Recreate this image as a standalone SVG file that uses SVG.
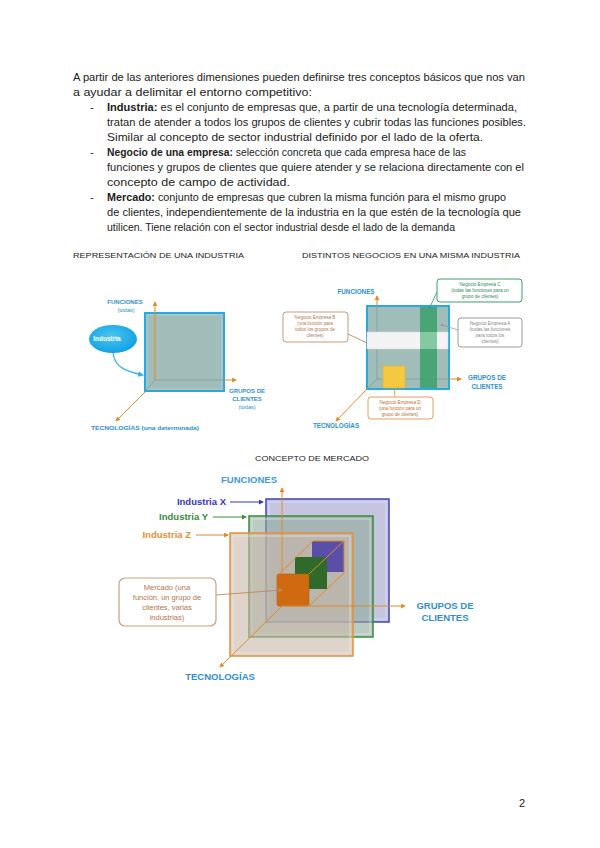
<svg xmlns="http://www.w3.org/2000/svg" width="600" height="848" viewBox="0 0 600 848">
<defs>
<marker id="ao" viewBox="0 0 6 6" refX="5" refY="3" markerWidth="5" markerHeight="5" orient="auto"><path d="M0,0 L6,3 L0,6 z" fill="#e08a2a"/></marker>
<marker id="ab" viewBox="0 0 6 6" refX="5" refY="3" markerWidth="5" markerHeight="5" orient="auto"><path d="M0,0 L6,3 L0,6 z" fill="#3535c0"/></marker>
<marker id="ag" viewBox="0 0 6 6" refX="5" refY="3" markerWidth="5" markerHeight="5" orient="auto"><path d="M0,0 L6,3 L0,6 z" fill="#3a8a3a"/></marker>
<marker id="al" viewBox="0 0 6 6" refX="5" refY="3" markerWidth="5" markerHeight="5" orient="auto"><path d="M0,0 L6,3 L0,6 z" fill="#35b5ea"/></marker>
<marker id="am" viewBox="0 0 6 6" refX="5" refY="3" markerWidth="5" markerHeight="5" orient="auto"><path d="M0,0 L6,3 L0,6 z" fill="#c08860"/></marker>
<radialGradient id="gInd" cx="0.45" cy="0.4" r="0.6"><stop offset="0" stop-color="#4cc4f2"/><stop offset="1" stop-color="#11a2e4"/></radialGradient>
</defs>
<style>
.body{font-family:"Liberation Sans",Arial,sans-serif;font-size:11px;fill:#222}
.b{font-weight:bold}
.h{font-family:"Liberation Sans",Arial,sans-serif;font-size:7.5px;fill:#222}
.lbl{font-family:"Liberation Sans",Arial,sans-serif;font-weight:bold;fill:#2e8fd0}
.ax{stroke:#e08a2a;stroke-width:1;fill:none}
.sm{font-family:"Liberation Sans",Arial,sans-serif;font-size:4.6px;text-anchor:middle}
.cb{fill:#fff;stroke-width:1}
</style>
<rect width="600" height="848" fill="#fff"/>

<g id="text">
<text class="body" x="73" y="81" textLength="452" lengthAdjust="spacingAndGlyphs">A partir de las anteriores dimensiones pueden definirse tres conceptos básicos que nos van</text>
<text class="body" x="73" y="96" textLength="239" lengthAdjust="spacingAndGlyphs">a ayudar a delimitar el entorno competitivo:</text>
<text class="body" x="90" y="111">-</text>
<text class="body" x="107" y="111" textLength="410" lengthAdjust="spacingAndGlyphs"><tspan class="b">Industria:</tspan> es el conjunto de empresas que, a partir de una tecnología determinada,</text>
<text class="body" x="107" y="126" textLength="419" lengthAdjust="spacingAndGlyphs">tratan de atender a todos los grupos de clientes y cubrir todas las funciones posibles.</text>
<text class="body" x="107" y="141" textLength="376" lengthAdjust="spacingAndGlyphs">Similar al concepto de sector industrial definido por el lado de la oferta.</text>
<text class="body" x="90" y="156">-</text>
<text class="body" x="107" y="156" textLength="359" lengthAdjust="spacingAndGlyphs"><tspan class="b">Negocio de una empresa:</tspan> selección concreta que cada empresa hace de las</text>
<text class="body" x="107" y="171" textLength="417" lengthAdjust="spacingAndGlyphs">funciones y grupos de clientes que quiere atender y se relaciona directamente con el</text>
<text class="body" x="107" y="186" textLength="183" lengthAdjust="spacingAndGlyphs">concepto de campo de actividad.</text>
<text class="body" x="90" y="201">-</text>
<text class="body" x="107" y="201" textLength="399" lengthAdjust="spacingAndGlyphs"><tspan class="b">Mercado:</tspan> conjunto de empresas que cubren la misma función para el mismo grupo</text>
<text class="body" x="107" y="216" textLength="414" lengthAdjust="spacingAndGlyphs">de clientes, independientemente de la industria en la que estén de la tecnología que</text>
<text class="body" x="107" y="231" textLength="348" lengthAdjust="spacingAndGlyphs">utilicen. Tiene relación con el sector industrial desde el lado de la demanda</text>
<text class="h" x="73" y="258" textLength="171" lengthAdjust="spacingAndGlyphs">REPRESENTACIÓN DE UNA INDUSTRIA</text>
<text class="h" x="302" y="258" textLength="218" lengthAdjust="spacingAndGlyphs">DISTINTOS NEGOCIOS EN UNA MISMA INDUSTRIA</text>
<text class="h" x="255" y="461" textLength="114" lengthAdjust="spacingAndGlyphs">CONCEPTO DE MERCADO</text>
<text class="body" x="519" y="807" font-size="11">2</text>
</g>

<!-- Left diagram -->
<g id="ind-cube">
<rect x="145" y="313" width="79" height="78" fill="#a0bdb9" stroke="#2aa8e0" stroke-width="2"/>
<rect x="147" y="315" width="75" height="74" fill="none" stroke="#c8e6f0" stroke-width="0.6" opacity="0.7"/>
<path d="M155,380 L224,380 M155,380 L146,390" stroke="#7e9a96" stroke-width="0.7" fill="none"/>
</g>
<g id="ind-connectors">
<line class="ax" x1="155" y1="380" x2="155" y2="302" marker-end="url(#ao)"/>
<line class="ax" x1="224" y1="380" x2="236" y2="380" marker-end="url(#ao)"/>
<line class="ax" x1="146" y1="391" x2="116" y2="421" marker-end="url(#ao)"/>
<path d="M113,352 C114,368 128,372 143,375" stroke="#35b5ea" stroke-width="1.2" fill="none" marker-end="url(#al)"/>
</g>
<g id="ind-ellipse">
<ellipse cx="113" cy="339" rx="24" ry="14" fill="url(#gInd)"/>
<text x="107" y="341" font-family="Liberation Sans, Arial, sans-serif" font-size="6.5" font-weight="bold" fill="#fff" text-anchor="middle">Industria</text>
</g>
<g id="ind-labels" class="lbl" font-size="6">
<text x="125" y="304" text-anchor="middle">FUNCIONES</text>
<text x="126" y="312" text-anchor="middle" font-weight="normal" font-size="5.5">(todas)</text>
<text x="247" y="393" text-anchor="middle">GRUPOS DE</text>
<text x="247" y="401" text-anchor="middle">CLIENTES</text>
<text x="247" y="409" text-anchor="middle" font-weight="normal" font-size="5.5">(todas)</text>
<text x="91" y="430" textLength="108" lengthAdjust="spacingAndGlyphs">TECNOLOGÍAS (una determinada)</text>
</g>

<!-- Right diagram -->
<g id="neg-cube">
<rect x="367" y="306" width="82" height="83" fill="#a0bdb9" stroke="#2aa8e0" stroke-width="2"/>
<path d="M377,306 L377,379 L449,379 M377,379 L367,389" stroke="#7e9a96" stroke-width="0.7" fill="none"/>
<rect x="367" y="332" width="81" height="17" fill="#f3f3f3" stroke="#dcdcdc" stroke-width="0.5"/>
<rect x="420" y="307" width="17" height="81" fill="#3aa06a" opacity="0.85"/>
<rect x="420" y="332" width="17" height="17" fill="#8fd0aa" opacity="0.8"/>
<rect x="383" y="366" width="22" height="22" fill="#f5c842" stroke="#e5b020" stroke-width="0.6"/>
</g>
<g id="neg-connectors">
<line class="ax" x1="377" y1="306" x2="377" y2="296" marker-end="url(#ao)"/>
<line class="ax" x1="449" y1="379" x2="461" y2="379" marker-end="url(#ao)"/>
<line class="ax" x1="367" y1="389" x2="336" y2="421" marker-end="url(#ao)"/>
<line x1="437" y1="292" x2="429" y2="309" stroke="#2e9a66" stroke-width="0.8"/>
<line x1="458" y1="330" x2="442" y2="325" stroke="#999" stroke-width="0.8"/>
<circle cx="442" cy="325" r="0.9" fill="#888"/>
<line x1="348" y1="334" x2="367" y2="343" stroke="#b07850" stroke-width="0.8"/>
<line x1="395" y1="397" x2="394" y2="388" stroke="#e08a2a" stroke-width="0.8"/>
</g>
<g id="neg-labels" class="lbl" font-size="6.3">
<text x="356" y="294" text-anchor="middle">FUNCIONES</text>
<text x="487" y="380" text-anchor="middle">GRUPOS DE</text>
<text x="487" y="389" text-anchor="middle">CLIENTES</text>
<text x="336" y="428" text-anchor="middle">TECNOLOGÍAS</text>
</g>
<g id="box-c">
<rect class="cb" x="437" y="279" width="85" height="23" rx="3" stroke="#3aa06a"/>
<text class="sm" fill="#2e8a5a"><tspan x="480" y="286">Negocio Empresa C</tspan><tspan x="480" y="292">(todas las funciones para un</tspan><tspan x="480" y="298">grupo de clientes)</tspan></text>
</g>
<g id="box-a">
<rect class="cb" x="458" y="318" width="64" height="29" rx="3" stroke="#9a9a9a"/>
<text class="sm" fill="#888"><tspan x="490" y="325">Negocio Empresa A</tspan><tspan x="490" y="331">(todas las funciones</tspan><tspan x="490" y="337">para todos los</tspan><tspan x="490" y="343">clientes)</tspan></text>
</g>
<g id="box-b">
<rect class="cb" x="283" y="312" width="65" height="30" rx="3" stroke="#c89a78"/>
<text class="sm" fill="#b07850"><tspan x="315" y="319">Negocio Empresa B</tspan><tspan x="315" y="325">(una función para</tspan><tspan x="315" y="331">todos los grupos de</tspan><tspan x="315" y="337">clientes)</tspan></text>
</g>
<g id="box-d">
<rect class="cb" x="368" y="397" width="65" height="22" rx="3" stroke="#e0a060"/>
<text class="sm" fill="#c07030"><tspan x="400" y="404">Negocio Empresa D</tspan><tspan x="400" y="410">(una función para un</tspan><tspan x="400" y="416">grupo de clientes)</tspan></text>
</g>

<!-- Bottom diagram -->
<g id="ind-x">
<rect x="266" y="499" width="123" height="123" fill="#c5c5e0" stroke="#4040c0" stroke-width="1.5"/>
<rect x="269" y="502" width="117" height="117" fill="none" stroke="#e8e8f4" stroke-width="0.8" opacity="0.8"/>
</g>
<g id="ind-y">
<rect x="249" y="516" width="124" height="121" fill="#90a898" fill-opacity="0.6" stroke="#3a8a3a" stroke-width="1.5"/>
<rect x="252" y="519" width="118" height="115" fill="none" stroke="#e6eee6" stroke-width="0.8" opacity="0.8"/>
</g>
<g id="ind-z">
<rect x="230" y="533" width="123" height="123" fill="#c8b8a8" fill-opacity="0.6" stroke="#e0913a" stroke-width="1.5"/>
<rect x="233" y="536" width="117" height="117" fill="none" stroke="#f2ece6" stroke-width="0.8" opacity="0.8"/>
</g>
<g id="mkt-cubes">
<rect x="312" y="541" width="32" height="31" fill="#5a4fa8"/>
<rect x="295" y="557" width="32" height="32" fill="#2f6a2a"/>
<rect x="277" y="574" width="32" height="32" rx="2" fill="#d06a10" stroke="#b85a08" stroke-width="0.6"/>
<path d="M279,574 L313,541 L344,541 L344,573 L309,606 M309,574 L344,541" stroke="#e08a2a" stroke-width="1" fill="none"/>
</g>
<g id="mkt-connectors">
<line class="ax" x1="282" y1="574" x2="282" y2="488" marker-end="url(#ao)"/>
<line class="ax" x1="282" y1="606" x2="405" y2="606" marker-end="url(#ao)"/>
<line class="ax" x1="282" y1="606" x2="220" y2="667" marker-end="url(#ao)"/>
<line x1="230" y1="502" x2="263" y2="502" stroke="#3535c0" stroke-width="1" marker-end="url(#ab)"/>
<line x1="213" y1="517" x2="246" y2="517" stroke="#3a8a3a" stroke-width="1" marker-end="url(#ag)"/>
<line class="ax" x1="196" y1="535" x2="228" y2="535" marker-end="url(#ao)"/>
<line x1="216" y1="595" x2="282" y2="590" stroke="#c08860" stroke-width="0.9" marker-end="url(#am)"/>
</g>
<g id="mkt-labels" font-family="Liberation Sans, Arial, sans-serif" font-weight="bold">
<text x="249" y="483" font-size="9.5" fill="#3a9ad9" text-anchor="middle">FUNCIONES</text>
<text x="226" y="505" font-size="9.5" fill="#3535c0" text-anchor="end">Industria X</text>
<text x="208" y="520" font-size="9.5" fill="#3a8a3a" text-anchor="end">Industria Y</text>
<text x="191" y="538" font-size="9.5" fill="#e0913a" text-anchor="end">Industria Z</text>
<text x="445" y="609" font-size="9.5" fill="#2e8fd0" text-anchor="middle">GRUPOS DE</text>
<text x="445" y="621" font-size="9.5" fill="#2e8fd0" text-anchor="middle">CLIENTES</text>
<text x="220" y="680" font-size="9.5" fill="#2e8fd0" text-anchor="middle">TECNOLOGÍAS</text>
</g>
<g id="mkt-box">
<rect x="119" y="578" width="97" height="48" rx="6" fill="#fff" stroke="#c8a080" stroke-width="1.2"/>
<text font-family="Liberation Sans, Arial, sans-serif" font-size="7.5" fill="#b5744a" text-anchor="middle"><tspan x="167" y="590">Mercado (una</tspan><tspan x="167" y="600">función, un grupo de</tspan><tspan x="167" y="610">clientes, varias</tspan><tspan x="167" y="620">industrias)</tspan></text>
</g>
</svg>
